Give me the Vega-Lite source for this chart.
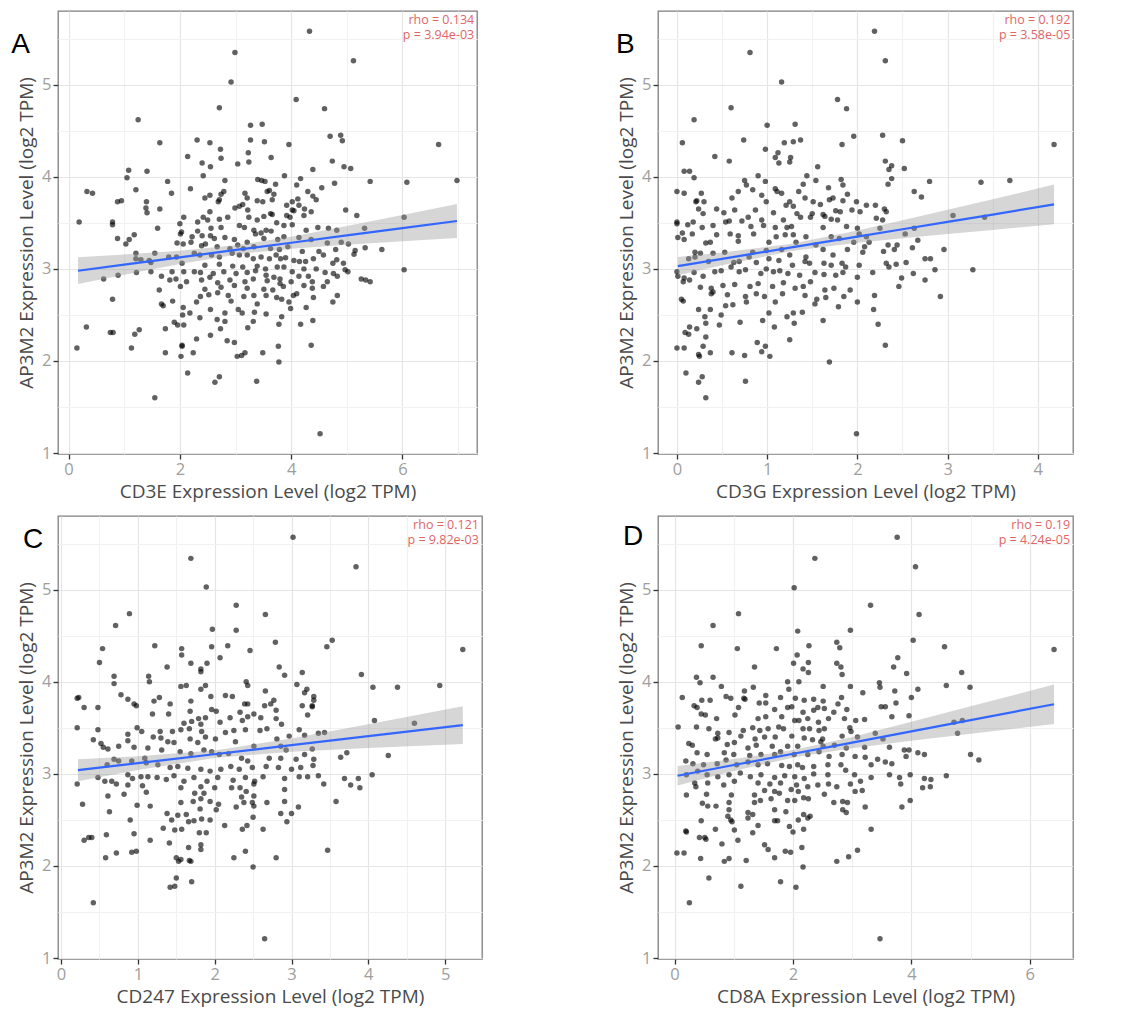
{
"$schema": "https://vega.github.io/schema/vega-lite/v6.json",
"padding": {"left": 10, "top": 10, "right": 0, "bottom": 0},
"background": "white",
"config": {
"view": {"stroke": "#7f7f7f", "strokeWidth": 1.3},
"axis": {"domain": false, "labelFont": "Open Sans", "titleFont": "Open Sans", "labelFontSize": 16.5, "titleFontSize": 19, "labelColor": "#9e9e9e", "titleColor": "#4a4a4a", "titleFontWeight": "normal", "tickColor": "#333333", "tickWidth": 1.3, "tickSize": 5, "gridWidth": 1.2, "labelPadding": 2, "titlePadding": 5}
},
"datasets": {
"A": [{"x":4.33,"y":5.58},{"x":2.99,"y":5.35},{"x":5.12,"y":5.26},{"x":2.92,"y":5.03},{"x":4.09,"y":4.84},{"x":2.71,"y":4.75},{"x":4.60,"y":4.74},{"x":1.25,"y":4.62},{"x":3.27,"y":4.56},{"x":3.48,"y":4.57},{"x":4.70,"y":4.44},{"x":4.89,"y":4.45},{"x":4.92,"y":4.39},{"x":2.31,"y":4.40},{"x":3.27,"y":4.40},{"x":3.52,"y":4.38},{"x":1.64,"y":4.37},{"x":2.54,"y":4.37},{"x":3.96,"y":4.35},{"x":6.65,"y":4.35},{"x":2.73,"y":4.30},{"x":3.23,"y":4.26},{"x":2.14,"y":4.22},{"x":2.74,"y":4.20},{"x":3.64,"y":4.21},{"x":2.40,"y":4.15},{"x":3.24,"y":4.16},{"x":4.74,"y":4.17},{"x":2.55,"y":4.11},{"x":3.04,"y":4.14},{"x":4.95,"y":4.11},{"x":5.07,"y":4.09},{"x":4.39,"y":4.08},{"x":1.08,"y":4.07},{"x":1.41,"y":4.06},{"x":1.05,"y":3.99},{"x":2.42,"y":4.01},{"x":3.88,"y":4.01},{"x":4.17,"y":3.98},{"x":6.98,"y":3.96},{"x":1.78,"y":3.95},{"x":2.81,"y":3.96},{"x":3.40,"y":3.97},{"x":3.47,"y":3.96},{"x":3.53,"y":3.95},{"x":5.42,"y":3.95},{"x":6.08,"y":3.94},{"x":4.10,"y":3.91},{"x":3.72,"y":3.92},{"x":4.78,"y":3.93},{"x":4.55,"y":3.88},{"x":1.21,"y":3.86},{"x":2.19,"y":3.87},{"x":0.33,"y":3.84},{"x":0.43,"y":3.82},{"x":1.85,"y":3.82},{"x":3.57,"y":3.84},{"x":3.61,"y":3.85},{"x":3.17,"y":3.82},{"x":4.30,"y":3.84},{"x":2.79,"y":3.84},{"x":2.74,"y":3.81},{"x":2.54,"y":3.80},{"x":2.45,"y":3.77},{"x":4.39,"y":3.79},{"x":4.45,"y":3.75},{"x":3.69,"y":3.81},{"x":1.40,"y":3.73},{"x":0.88,"y":3.73},{"x":0.95,"y":3.74},{"x":2.69,"y":3.73},{"x":2.71,"y":3.75},{"x":3.13,"y":3.70},{"x":3.49,"y":3.73},{"x":3.21,"y":3.77},{"x":3.39,"y":3.74},{"x":3.66,"y":3.75},{"x":4.02,"y":3.73},{"x":4.12,"y":3.76},{"x":3.92,"y":3.69},{"x":4.14,"y":3.69},{"x":4.24,"y":3.65},{"x":4.36,"y":3.62},{"x":4.05,"y":3.63},{"x":4.02,"y":3.64},{"x":4.98,"y":3.64},{"x":1.64,"y":3.65},{"x":1.39,"y":3.66},{"x":1.41,"y":3.61},{"x":2.54,"y":3.62},{"x":3.22,"y":3.64},{"x":3.07,"y":3.68},{"x":2.99,"y":3.66},{"x":3.63,"y":3.60},{"x":3.66,"y":3.59},{"x":3.51,"y":3.57},{"x":3.92,"y":3.58},{"x":3.98,"y":3.56},{"x":4.23,"y":3.58},{"x":6.03,"y":3.56},{"x":5.18,"y":3.58},{"x":2.07,"y":3.56},{"x":2.32,"y":3.51},{"x":2.42,"y":3.56},{"x":2.50,"y":3.53},{"x":2.86,"y":3.56},{"x":2.71,"y":3.54},{"x":3.24,"y":3.56},{"x":3.39,"y":3.53},{"x":3.74,"y":3.50},{"x":3.87,"y":3.47},{"x":4.02,"y":3.48},{"x":2.00,"y":3.49},{"x":1.60,"y":3.44},{"x":0.79,"y":3.51},{"x":0.19,"y":3.51},{"x":0.79,"y":3.48},{"x":2.56,"y":3.44},{"x":2.74,"y":3.45},{"x":3.07,"y":3.47},{"x":3.16,"y":3.45},{"x":3.33,"y":3.42},{"x":3.46,"y":3.39},{"x":3.55,"y":3.42},{"x":3.64,"y":3.41},{"x":4.48,"y":3.45},{"x":4.67,"y":3.44},{"x":4.82,"y":3.42},{"x":5.32,"y":3.44},{"x":4.27,"y":3.42},{"x":2.03,"y":3.40},{"x":2.32,"y":3.41},{"x":1.18,"y":3.37},{"x":0.88,"y":3.33},{"x":1.09,"y":3.32},{"x":1.03,"y":3.27},{"x":2.01,"y":3.38},{"x":2.22,"y":3.35},{"x":2.40,"y":3.36},{"x":2.55,"y":3.36},{"x":2.62,"y":3.33},{"x":2.81,"y":3.34},{"x":2.98,"y":3.32},{"x":3.21,"y":3.29},{"x":3.36,"y":3.38},{"x":3.51,"y":3.33},{"x":3.76,"y":3.32},{"x":3.87,"y":3.35},{"x":4.14,"y":3.34},{"x":4.36,"y":3.32},{"x":4.65,"y":3.28},{"x":4.90,"y":3.29},{"x":5.03,"y":3.27},{"x":5.33,"y":3.23},{"x":5.63,"y":3.21},{"x":1.95,"y":3.28},{"x":2.20,"y":3.29},{"x":2.06,"y":3.27},{"x":2.39,"y":3.25},{"x":2.46,"y":3.27},{"x":2.67,"y":3.24},{"x":2.90,"y":3.22},{"x":3.04,"y":3.26},{"x":3.14,"y":3.22},{"x":3.33,"y":3.24},{"x":3.63,"y":3.22},{"x":3.79,"y":3.21},{"x":3.94,"y":3.24},{"x":4.20,"y":3.19},{"x":4.50,"y":3.19},{"x":4.80,"y":3.21},{"x":5.15,"y":3.20},{"x":1.21,"y":3.17},{"x":1.55,"y":3.17},{"x":1.45,"y":3.09},{"x":1.21,"y":3.11},{"x":1.30,"y":3.10},{"x":1.80,"y":3.13},{"x":1.94,"y":3.13},{"x":2.26,"y":3.17},{"x":2.36,"y":3.15},{"x":2.57,"y":3.15},{"x":2.71,"y":3.13},{"x":2.94,"y":3.17},{"x":3.07,"y":3.15},{"x":3.21,"y":3.15},{"x":3.32,"y":3.11},{"x":3.46,"y":3.13},{"x":3.61,"y":3.11},{"x":3.73,"y":3.15},{"x":3.81,"y":3.11},{"x":3.90,"y":3.12},{"x":4.05,"y":3.09},{"x":4.15,"y":3.08},{"x":4.26,"y":3.08},{"x":4.40,"y":3.11},{"x":4.58,"y":3.15},{"x":4.75,"y":3.06},{"x":4.82,"y":3.10},{"x":4.94,"y":3.06},{"x":5.13,"y":3.16},{"x":2.04,"y":3.06},{"x":2.45,"y":3.04},{"x":2.71,"y":3.05},{"x":2.95,"y":3.03},{"x":3.13,"y":3.02},{"x":3.39,"y":3.03},{"x":3.54,"y":3.00},{"x":3.75,"y":3.02},{"x":3.87,"y":3.02},{"x":4.02,"y":2.97},{"x":4.23,"y":3.00},{"x":4.45,"y":3.00},{"x":4.97,"y":2.99},{"x":5.02,"y":2.97},{"x":6.03,"y":2.99},{"x":1.48,"y":2.97},{"x":1.22,"y":2.96},{"x":0.89,"y":2.93},{"x":0.63,"y":2.89},{"x":1.86,"y":2.97},{"x":2.07,"y":2.97},{"x":2.26,"y":2.97},{"x":2.37,"y":2.96},{"x":2.60,"y":2.95},{"x":2.79,"y":2.97},{"x":3.01,"y":2.95},{"x":3.21,"y":2.96},{"x":3.36,"y":2.98},{"x":3.55,"y":2.93},{"x":3.69,"y":2.91},{"x":3.80,"y":2.89},{"x":4.14,"y":2.92},{"x":4.31,"y":2.92},{"x":4.61,"y":2.96},{"x":4.76,"y":2.95},{"x":5.26,"y":2.89},{"x":5.42,"y":2.86},{"x":5.34,"y":2.88},{"x":1.67,"y":2.92},{"x":1.82,"y":2.88},{"x":1.93,"y":2.89},{"x":2.12,"y":2.86},{"x":2.39,"y":2.88},{"x":2.54,"y":2.91},{"x":2.68,"y":2.85},{"x":2.90,"y":2.88},{"x":3.17,"y":2.86},{"x":3.32,"y":2.89},{"x":3.57,"y":2.87},{"x":3.80,"y":2.84},{"x":4.00,"y":2.86},{"x":4.38,"y":2.86},{"x":4.65,"y":2.86},{"x":4.83,"y":2.92},{"x":2.01,"y":2.81},{"x":1.63,"y":2.77},{"x":2.45,"y":2.78},{"x":2.74,"y":2.80},{"x":2.98,"y":2.82},{"x":3.21,"y":2.79},{"x":3.51,"y":2.78},{"x":3.67,"y":2.77},{"x":3.86,"y":2.81},{"x":4.23,"y":2.82},{"x":4.38,"y":2.79},{"x":4.58,"y":2.81},{"x":2.68,"y":2.74},{"x":2.37,"y":2.70},{"x":2.52,"y":2.72},{"x":2.87,"y":2.71},{"x":3.15,"y":2.70},{"x":3.33,"y":2.71},{"x":3.55,"y":2.71},{"x":3.74,"y":2.69},{"x":3.83,"y":2.67},{"x":4.04,"y":2.71},{"x":4.10,"y":2.73},{"x":4.40,"y":2.69},{"x":4.83,"y":2.71},{"x":4.75,"y":2.64},{"x":0.79,"y":2.67},{"x":1.87,"y":2.65},{"x":2.30,"y":2.64},{"x":2.92,"y":2.65},{"x":3.05,"y":2.56},{"x":3.39,"y":2.62},{"x":3.96,"y":2.64},{"x":3.99,"y":2.57},{"x":4.27,"y":2.58},{"x":1.67,"y":2.62},{"x":1.70,"y":2.60},{"x":2.06,"y":2.58},{"x":2.18,"y":2.52},{"x":2.55,"y":2.56},{"x":2.81,"y":2.52},{"x":3.12,"y":2.52},{"x":3.34,"y":2.53},{"x":3.55,"y":2.51},{"x":2.05,"y":2.50},{"x":2.36,"y":2.47},{"x":2.67,"y":2.45},{"x":2.81,"y":2.43},{"x":3.32,"y":2.43},{"x":3.83,"y":2.48},{"x":4.39,"y":2.44},{"x":1.90,"y":2.42},{"x":1.96,"y":2.39},{"x":2.07,"y":2.39},{"x":3.78,"y":2.40},{"x":4.17,"y":2.40},{"x":1.74,"y":2.35},{"x":2.73,"y":2.35},{"x":3.22,"y":2.36},{"x":0.32,"y":2.37},{"x":0.75,"y":2.31},{"x":0.80,"y":2.31},{"x":1.27,"y":2.34},{"x":1.19,"y":2.29},{"x":2.30,"y":2.24},{"x":2.55,"y":2.28},{"x":2.85,"y":2.22},{"x":2.98,"y":2.20},{"x":2.04,"y":2.17},{"x":2.04,"y":2.16},{"x":3.77,"y":2.16},{"x":4.36,"y":2.17},{"x":0.15,"y":2.14},{"x":1.13,"y":2.14},{"x":1.74,"y":2.09},{"x":2.24,"y":2.09},{"x":2.02,"y":2.05},{"x":3.03,"y":2.05},{"x":3.11,"y":2.06},{"x":3.17,"y":2.09},{"x":3.49,"y":2.09},{"x":3.78,"y":1.99},{"x":2.14,"y":1.87},{"x":2.71,"y":1.83},{"x":2.63,"y":1.77},{"x":3.38,"y":1.78},{"x":1.55,"y":1.60},{"x":4.52,"y":1.21},{"x":1.48,"y":3.07}],
"Aband": [{"x":0.17,"fit":2.98,"lo":2.835,"hi":3.125},{"x":1,"fit":3.046,"lo":2.936,"hi":3.156},{"x":2,"fit":3.125,"lo":3.053,"hi":3.197},{"x":3.11,"fit":3.214,"lo":3.164,"hi":3.264},{"x":4,"fit":3.284,"lo":3.219,"hi":3.349},{"x":5,"fit":3.364,"lo":3.263,"hi":3.465},{"x":6,"fit":3.443,"lo":3.300,"hi":3.586},{"x":6.98,"fit":3.52,"lo":3.335,"hi":3.705}],
"B": [{"x":2.19,"y":5.58},{"x":0.81,"y":5.35},{"x":2.31,"y":5.26},{"x":1.16,"y":5.03},{"x":1.78,"y":4.84},{"x":1.88,"y":4.74},{"x":0.60,"y":4.75},{"x":0.19,"y":4.62},{"x":1.00,"y":4.56},{"x":1.31,"y":4.57},{"x":1.96,"y":4.44},{"x":2.28,"y":4.45},{"x":2.50,"y":4.39},{"x":0.74,"y":4.40},{"x":1.29,"y":4.38},{"x":1.37,"y":4.40},{"x":1.19,"y":4.37},{"x":0.06,"y":4.37},{"x":1.83,"y":4.35},{"x":4.18,"y":4.35},{"x":0.98,"y":4.30},{"x":1.12,"y":4.26},{"x":0.42,"y":4.22},{"x":1.09,"y":4.21},{"x":1.26,"y":4.21},{"x":0.58,"y":4.17},{"x":1.13,"y":4.15},{"x":1.25,"y":4.16},{"x":2.31,"y":4.17},{"x":1.56,"y":4.11},{"x":2.38,"y":4.12},{"x":2.35,"y":4.08},{"x":2.52,"y":4.09},{"x":0.08,"y":4.06},{"x":0.14,"y":4.06},{"x":0.19,"y":3.99},{"x":0.90,"y":4.01},{"x":1.44,"y":4.01},{"x":2.38,"y":3.98},{"x":3.69,"y":3.96},{"x":3.37,"y":3.94},{"x":2.80,"y":3.95},{"x":0.75,"y":3.96},{"x":0.98,"y":3.95},{"x":1.82,"y":3.97},{"x":1.54,"y":3.96},{"x":2.34,"y":3.92},{"x":1.40,"y":3.92},{"x":0.77,"y":3.91},{"x":1.68,"y":3.88},{"x":1.84,"y":3.91},{"x":0.84,"y":3.86},{"x":1.09,"y":3.87},{"x":0.68,"y":3.84},{"x":0.00,"y":3.84},{"x":0.08,"y":3.82},{"x":0.27,"y":3.82},{"x":1.11,"y":3.84},{"x":1.35,"y":3.84},{"x":2.63,"y":3.84},{"x":1.16,"y":3.82},{"x":1.89,"y":3.81},{"x":0.94,"y":3.80},{"x":1.73,"y":3.77},{"x":2.71,"y":3.78},{"x":0.61,"y":3.77},{"x":1.42,"y":3.77},{"x":1.69,"y":3.75},{"x":1.84,"y":3.74},{"x":0.21,"y":3.73},{"x":0.30,"y":3.73},{"x":0.22,"y":3.74},{"x":0.99,"y":3.73},{"x":1.25,"y":3.73},{"x":1.51,"y":3.73},{"x":1.59,"y":3.70},{"x":1.99,"y":3.73},{"x":2.10,"y":3.69},{"x":2.20,"y":3.69},{"x":1.21,"y":3.69},{"x":1.29,"y":3.68},{"x":0.44,"y":3.65},{"x":0.24,"y":3.65},{"x":0.64,"y":3.64},{"x":0.87,"y":3.64},{"x":1.76,"y":3.63},{"x":1.81,"y":3.62},{"x":1.94,"y":3.64},{"x":2.30,"y":3.65},{"x":2.32,"y":3.62},{"x":2.03,"y":3.62},{"x":1.07,"y":3.61},{"x":1.33,"y":3.60},{"x":1.50,"y":3.60},{"x":1.62,"y":3.59},{"x":0.29,"y":3.60},{"x":0.52,"y":3.61},{"x":3.06,"y":3.58},{"x":3.41,"y":3.56},{"x":0.58,"y":3.52},{"x":0.54,"y":3.51},{"x":0.00,"y":3.51},{"x":0.00,"y":3.49},{"x":0.18,"y":3.51},{"x":0.79,"y":3.56},{"x":0.94,"y":3.53},{"x":1.18,"y":3.53},{"x":1.37,"y":3.56},{"x":1.48,"y":3.56},{"x":1.64,"y":3.57},{"x":1.71,"y":3.54},{"x":1.78,"y":3.53},{"x":2.21,"y":3.55},{"x":2.28,"y":3.53},{"x":0.72,"y":3.52},{"x":0.12,"y":3.48},{"x":0.28,"y":3.45},{"x":0.40,"y":3.47},{"x":0.82,"y":3.46},{"x":0.96,"y":3.47},{"x":1.09,"y":3.45},{"x":1.22,"y":3.45},{"x":1.27,"y":3.46},{"x":1.62,"y":3.45},{"x":1.88,"y":3.46},{"x":2.00,"y":3.44},{"x":2.63,"y":3.44},{"x":2.25,"y":3.44},{"x":0.06,"y":3.39},{"x":0.01,"y":3.34},{"x":0.08,"y":3.32},{"x":0.17,"y":3.38},{"x":0.44,"y":3.37},{"x":0.59,"y":3.38},{"x":0.68,"y":3.36},{"x":0.85,"y":3.38},{"x":1.10,"y":3.35},{"x":1.20,"y":3.37},{"x":1.29,"y":3.37},{"x":1.43,"y":3.35},{"x":1.71,"y":3.35},{"x":1.80,"y":3.33},{"x":2.02,"y":3.38},{"x":2.10,"y":3.35},{"x":2.53,"y":3.38},{"x":2.67,"y":3.31},{"x":0.32,"y":3.28},{"x":0.37,"y":3.29},{"x":0.68,"y":3.30},{"x":1.02,"y":3.29},{"x":1.32,"y":3.29},{"x":1.54,"y":3.26},{"x":1.96,"y":3.29},{"x":2.13,"y":3.29},{"x":2.34,"y":3.26},{"x":2.44,"y":3.26},{"x":2.61,"y":3.23},{"x":2.08,"y":3.24},{"x":0.20,"y":3.18},{"x":0.26,"y":3.17},{"x":0.40,"y":3.17},{"x":0.53,"y":3.18},{"x":0.84,"y":3.18},{"x":0.99,"y":3.20},{"x":1.16,"y":3.21},{"x":1.25,"y":3.15},{"x":1.43,"y":3.13},{"x":1.62,"y":3.21},{"x":1.73,"y":3.15},{"x":1.89,"y":3.21},{"x":2.06,"y":3.18},{"x":2.29,"y":3.19},{"x":2.41,"y":3.21},{"x":2.96,"y":3.21},{"x":0.13,"y":3.11},{"x":0.20,"y":3.13},{"x":0.35,"y":3.08},{"x":0.63,"y":3.07},{"x":0.69,"y":3.08},{"x":0.80,"y":3.13},{"x":0.88,"y":3.07},{"x":1.02,"y":3.11},{"x":1.13,"y":3.09},{"x":1.28,"y":3.04},{"x":1.42,"y":3.08},{"x":1.47,"y":3.06},{"x":1.63,"y":3.06},{"x":1.71,"y":3.04},{"x":1.83,"y":3.06},{"x":1.87,"y":3.02},{"x":2.02,"y":3.04},{"x":2.32,"y":3.06},{"x":2.43,"y":3.05},{"x":2.54,"y":3.07},{"x":2.75,"y":3.11},{"x":2.81,"y":3.11},{"x":0.00,"y":2.97},{"x":0.01,"y":2.92},{"x":0.08,"y":2.90},{"x":0.14,"y":2.88},{"x":0.19,"y":2.96},{"x":0.29,"y":2.92},{"x":0.42,"y":2.97},{"x":0.49,"y":2.98},{"x":0.60,"y":3.02},{"x":0.69,"y":2.97},{"x":0.76,"y":2.99},{"x":0.93,"y":2.95},{"x":0.99,"y":3.00},{"x":1.07,"y":2.97},{"x":1.14,"y":2.98},{"x":1.23,"y":2.95},{"x":1.36,"y":2.93},{"x":1.53,"y":2.96},{"x":1.63,"y":2.94},{"x":1.76,"y":2.93},{"x":1.84,"y":2.96},{"x":2.00,"y":2.91},{"x":2.17,"y":2.96},{"x":2.35,"y":3.02},{"x":2.49,"y":2.90},{"x":2.62,"y":2.95},{"x":2.86,"y":2.99},{"x":3.28,"y":2.99},{"x":2.75,"y":2.88},{"x":0.07,"y":2.86},{"x":0.26,"y":2.80},{"x":0.38,"y":2.79},{"x":0.51,"y":2.82},{"x":0.64,"y":2.83},{"x":0.81,"y":2.81},{"x":0.90,"y":2.84},{"x":1.06,"y":2.81},{"x":1.18,"y":2.85},{"x":1.31,"y":2.79},{"x":1.40,"y":2.81},{"x":1.48,"y":2.86},{"x":1.64,"y":2.77},{"x":1.74,"y":2.79},{"x":1.92,"y":2.77},{"x":2.46,"y":2.81},{"x":0.38,"y":2.73},{"x":0.40,"y":2.75},{"x":0.56,"y":2.72},{"x":0.76,"y":2.70},{"x":0.88,"y":2.73},{"x":0.97,"y":2.70},{"x":1.17,"y":2.73},{"x":1.42,"y":2.71},{"x":1.55,"y":2.67},{"x":1.65,"y":2.69},{"x":1.85,"y":2.70},{"x":2.00,"y":2.64},{"x":2.19,"y":2.71},{"x":2.92,"y":2.70},{"x":0.05,"y":2.67},{"x":0.07,"y":2.65},{"x":0.24,"y":2.56},{"x":0.37,"y":2.56},{"x":0.54,"y":2.60},{"x":0.62,"y":2.61},{"x":0.77,"y":2.64},{"x":1.09,"y":2.64},{"x":1.39,"y":2.53},{"x":1.53,"y":2.62},{"x":1.62,"y":2.44},{"x":1.79,"y":2.59},{"x":2.18,"y":2.56},{"x":0.31,"y":2.48},{"x":0.49,"y":2.50},{"x":0.95,"y":2.44},{"x":1.02,"y":2.52},{"x":1.22,"y":2.48},{"x":1.29,"y":2.52},{"x":1.30,"y":2.41},{"x":0.32,"y":2.41},{"x":0.47,"y":2.39},{"x":0.70,"y":2.42},{"x":1.08,"y":2.37},{"x":2.23,"y":2.40},{"x":0.09,"y":2.31},{"x":0.14,"y":2.37},{"x":0.22,"y":2.35},{"x":0.32,"y":2.26},{"x":0.13,"y":2.29},{"x":1.25,"y":2.23},{"x":0.29,"y":2.16},{"x":0.89,"y":2.20},{"x":0.98,"y":2.16},{"x":0.94,"y":2.10},{"x":2.31,"y":2.17},{"x":0.00,"y":2.14},{"x":0.08,"y":2.14},{"x":0.61,"y":2.09},{"x":0.37,"y":2.09},{"x":0.24,"y":2.07},{"x":0.25,"y":2.05},{"x":0.75,"y":2.06},{"x":1.03,"y":2.05},{"x":1.69,"y":1.99},{"x":0.10,"y":1.87},{"x":0.28,"y":1.83},{"x":0.24,"y":1.77},{"x":0.76,"y":1.78},{"x":0.32,"y":1.60},{"x":1.99,"y":1.21}],
"Bband": [{"x":0.01,"fit":3.03,"lo":2.93,"hi":3.13},{"x":0.5,"fit":3.109,"lo":3.040,"hi":3.178},{"x":1.27,"fit":3.233,"lo":3.193,"hi":3.273},{"x":2,"fit":3.35,"lo":3.284,"hi":3.416},{"x":2.5,"fit":3.43,"lo":3.332,"hi":3.528},{"x":3,"fit":3.51,"lo":3.378,"hi":3.642},{"x":3.5,"fit":3.59,"lo":3.423,"hi":3.757},{"x":4.18,"fit":3.70,"lo":3.485,"hi":3.915}],
"C": [{"x":3.02,"y":5.57},{"x":1.69,"y":5.34},{"x":3.84,"y":5.25},{"x":1.89,"y":5.03},{"x":2.28,"y":4.83},{"x":2.66,"y":4.73},{"x":0.89,"y":4.74},{"x":0.71,"y":4.61},{"x":1.97,"y":4.57},{"x":2.28,"y":4.56},{"x":2.79,"y":4.43},{"x":3.53,"y":4.45},{"x":3.46,"y":4.38},{"x":1.22,"y":4.39},{"x":1.57,"y":4.36},{"x":1.96,"y":4.38},{"x":2.17,"y":4.39},{"x":0.54,"y":4.36},{"x":2.46,"y":4.34},{"x":5.23,"y":4.35},{"x":1.57,"y":4.29},{"x":2.07,"y":4.26},{"x":0.50,"y":4.21},{"x":1.90,"y":4.20},{"x":1.69,"y":4.20},{"x":1.38,"y":4.16},{"x":2.84,"y":4.16},{"x":1.82,"y":4.14},{"x":3.14,"y":4.10},{"x":1.82,"y":4.11},{"x":2.91,"y":4.07},{"x":3.91,"y":4.08},{"x":0.69,"y":4.06},{"x":1.14,"y":4.06},{"x":0.69,"y":3.98},{"x":1.15,"y":4.00},{"x":2.41,"y":4.00},{"x":3.07,"y":3.97},{"x":4.93,"y":3.96},{"x":4.06,"y":3.94},{"x":4.38,"y":3.94},{"x":1.56,"y":3.95},{"x":1.63,"y":3.96},{"x":1.88,"y":3.96},{"x":2.43,"y":3.96},{"x":1.82,"y":3.92},{"x":2.66,"y":3.90},{"x":3.20,"y":3.92},{"x":3.17,"y":3.88},{"x":0.21,"y":3.82},{"x":0.23,"y":3.83},{"x":0.78,"y":3.86},{"x":0.87,"y":3.81},{"x":1.28,"y":3.83},{"x":1.95,"y":3.84},{"x":2.14,"y":3.85},{"x":2.23,"y":3.84},{"x":3.29,"y":3.84},{"x":3.29,"y":3.80},{"x":2.77,"y":3.80},{"x":2.73,"y":3.76},{"x":1.21,"y":3.79},{"x":1.69,"y":3.79},{"x":0.95,"y":3.76},{"x":1.42,"y":3.76},{"x":2.39,"y":3.76},{"x":2.43,"y":3.76},{"x":3.14,"y":3.74},{"x":0.30,"y":3.72},{"x":0.48,"y":3.72},{"x":0.98,"y":3.74},{"x":3.27,"y":3.73},{"x":3.27,"y":3.74},{"x":2.65,"y":3.74},{"x":2.80,"y":3.69},{"x":1.96,"y":3.70},{"x":2.02,"y":3.68},{"x":1.68,"y":3.68},{"x":2.33,"y":3.67},{"x":2.51,"y":3.65},{"x":3.21,"y":3.64},{"x":1.19,"y":3.65},{"x":1.40,"y":3.65},{"x":1.79,"y":3.60},{"x":1.88,"y":3.61},{"x":2.20,"y":3.61},{"x":2.43,"y":3.62},{"x":2.60,"y":3.61},{"x":2.80,"y":3.60},{"x":2.87,"y":3.54},{"x":2.36,"y":3.58},{"x":1.70,"y":3.57},{"x":1.60,"y":3.55},{"x":1.82,"y":3.54},{"x":2.07,"y":3.56},{"x":4.60,"y":3.55},{"x":4.08,"y":3.58},{"x":0.21,"y":3.50},{"x":0.48,"y":3.48},{"x":0.87,"y":3.43},{"x":0.87,"y":3.36},{"x":0.42,"y":3.37},{"x":0.52,"y":3.33},{"x":0.99,"y":3.50},{"x":1.05,"y":3.46},{"x":1.29,"y":3.46},{"x":1.45,"y":3.46},{"x":1.56,"y":3.48},{"x":1.67,"y":3.49},{"x":1.83,"y":3.46},{"x":1.88,"y":3.40},{"x":2.01,"y":3.38},{"x":2.14,"y":3.45},{"x":2.25,"y":3.47},{"x":2.40,"y":3.48},{"x":2.59,"y":3.47},{"x":2.68,"y":3.49},{"x":2.81,"y":3.38},{"x":2.97,"y":3.41},{"x":3.10,"y":3.48},{"x":3.17,"y":3.42},{"x":3.35,"y":3.44},{"x":3.43,"y":3.45},{"x":1.20,"y":3.40},{"x":1.30,"y":3.39},{"x":1.39,"y":3.35},{"x":1.47,"y":3.34},{"x":1.68,"y":3.38},{"x":1.78,"y":3.34},{"x":2.27,"y":3.35},{"x":2.51,"y":3.30},{"x":2.86,"y":3.30},{"x":2.93,"y":3.26},{"x":3.27,"y":3.27},{"x":0.55,"y":3.29},{"x":0.61,"y":3.27},{"x":0.75,"y":3.30},{"x":0.95,"y":3.29},{"x":1.13,"y":3.28},{"x":1.31,"y":3.26},{"x":1.55,"y":3.24},{"x":1.69,"y":3.22},{"x":1.86,"y":3.26},{"x":1.96,"y":3.24},{"x":2.06,"y":3.21},{"x":2.18,"y":3.22},{"x":2.35,"y":3.17},{"x":2.43,"y":3.14},{"x":2.71,"y":3.17},{"x":2.86,"y":3.17},{"x":3.06,"y":3.16},{"x":3.17,"y":3.21},{"x":3.29,"y":3.16},{"x":3.64,"y":3.18},{"x":3.72,"y":3.23},{"x":4.26,"y":3.20},{"x":0.69,"y":3.16},{"x":0.60,"y":3.10},{"x":0.75,"y":3.14},{"x":0.92,"y":3.14},{"x":1.09,"y":3.17},{"x":1.11,"y":3.12},{"x":1.26,"y":3.10},{"x":1.42,"y":3.07},{"x":1.52,"y":3.08},{"x":1.65,"y":3.06},{"x":1.82,"y":3.05},{"x":1.94,"y":3.03},{"x":2.08,"y":3.05},{"x":2.21,"y":3.08},{"x":2.32,"y":3.05},{"x":2.49,"y":3.07},{"x":2.67,"y":3.08},{"x":2.83,"y":3.07},{"x":3.00,"y":3.05},{"x":3.12,"y":3.07},{"x":3.28,"y":3.09},{"x":4.05,"y":2.99},{"x":0.21,"y":2.89},{"x":0.48,"y":2.96},{"x":0.57,"y":2.92},{"x":0.66,"y":2.92},{"x":0.72,"y":2.89},{"x":0.87,"y":2.99},{"x":0.93,"y":2.95},{"x":1.04,"y":2.97},{"x":1.13,"y":2.97},{"x":1.25,"y":2.96},{"x":1.37,"y":2.94},{"x":1.47,"y":2.98},{"x":1.60,"y":2.92},{"x":1.73,"y":2.96},{"x":1.90,"y":2.92},{"x":2.04,"y":2.96},{"x":2.24,"y":2.93},{"x":2.40,"y":2.96},{"x":2.52,"y":2.92},{"x":2.63,"y":2.97},{"x":2.91,"y":2.95},{"x":3.10,"y":2.97},{"x":3.21,"y":2.97},{"x":3.35,"y":2.98},{"x":3.42,"y":2.89},{"x":3.69,"y":2.95},{"x":3.77,"y":2.88},{"x":3.87,"y":2.95},{"x":3.89,"y":2.85},{"x":0.87,"y":2.88},{"x":1.06,"y":2.87},{"x":1.11,"y":2.80},{"x":0.82,"y":2.78},{"x":0.61,"y":2.76},{"x":1.56,"y":2.85},{"x":1.82,"y":2.86},{"x":2.00,"y":2.85},{"x":2.22,"y":2.85},{"x":2.33,"y":2.85},{"x":2.51,"y":2.89},{"x":2.91,"y":2.83},{"x":1.74,"y":2.79},{"x":1.86,"y":2.79},{"x":2.41,"y":2.81},{"x":2.51,"y":2.76},{"x":0.28,"y":2.67},{"x":1.82,"y":2.73},{"x":1.94,"y":2.70},{"x":2.05,"y":2.67},{"x":2.35,"y":2.75},{"x":2.38,"y":2.69},{"x":2.49,"y":2.69},{"x":2.68,"y":2.69},{"x":2.91,"y":2.70},{"x":3.58,"y":2.70},{"x":1.56,"y":2.69},{"x":1.72,"y":2.70},{"x":0.99,"y":2.66},{"x":1.16,"y":2.65},{"x":2.28,"y":2.64},{"x":2.02,"y":2.61},{"x":3.09,"y":2.64},{"x":0.63,"y":2.59},{"x":1.81,"y":2.62},{"x":2.51,"y":2.65},{"x":1.38,"y":2.57},{"x":1.52,"y":2.55},{"x":1.63,"y":2.56},{"x":2.86,"y":2.57},{"x":3.00,"y":2.57},{"x":2.50,"y":2.53},{"x":1.44,"y":2.50},{"x":0.90,"y":2.50},{"x":1.66,"y":2.48},{"x":1.73,"y":2.49},{"x":1.83,"y":2.51},{"x":1.94,"y":2.50},{"x":2.13,"y":2.44},{"x":2.94,"y":2.48},{"x":1.33,"y":2.41},{"x":1.48,"y":2.39},{"x":1.57,"y":2.40},{"x":2.36,"y":2.40},{"x":2.42,"y":2.44},{"x":2.63,"y":2.40},{"x":0.95,"y":2.35},{"x":1.80,"y":2.36},{"x":1.89,"y":2.36},{"x":0.59,"y":2.34},{"x":0.30,"y":2.28},{"x":0.36,"y":2.31},{"x":0.40,"y":2.31},{"x":1.16,"y":2.28},{"x":1.41,"y":2.25},{"x":1.82,"y":2.23},{"x":1.82,"y":2.18},{"x":1.66,"y":2.20},{"x":2.40,"y":2.16},{"x":3.47,"y":2.17},{"x":0.92,"y":2.15},{"x":0.98,"y":2.16},{"x":0.72,"y":2.14},{"x":0.58,"y":2.09},{"x":1.50,"y":2.09},{"x":1.53,"y":2.05},{"x":1.56,"y":2.07},{"x":1.67,"y":2.06},{"x":1.69,"y":2.05},{"x":2.25,"y":2.09},{"x":2.80,"y":2.09},{"x":2.50,"y":1.99},{"x":1.50,"y":1.87},{"x":1.42,"y":1.77},{"x":1.48,"y":1.78},{"x":1.70,"y":1.83},{"x":0.42,"y":1.60},{"x":2.65,"y":1.21}],
"Cband": [{"x":0.22,"fit":3.04,"lo":2.92,"hi":3.16},{"x":1,"fit":3.116,"lo":3.041,"hi":3.191},{"x":2.02,"fit":3.216,"lo":3.176,"hi":3.256},{"x":3,"fit":3.312,"lo":3.239,"hi":3.385},{"x":4,"fit":3.410,"lo":3.280,"hi":3.540},{"x":5.23,"fit":3.53,"lo":3.325,"hi":3.735}],
"D": [{"x":3.76,"y":5.57},{"x":2.37,"y":5.34},{"x":4.07,"y":5.25},{"x":2.02,"y":5.02},{"x":3.31,"y":4.83},{"x":4.13,"y":4.73},{"x":1.08,"y":4.74},{"x":0.65,"y":4.61},{"x":2.08,"y":4.55},{"x":2.97,"y":4.56},{"x":2.74,"y":4.43},{"x":4.03,"y":4.45},{"x":4.56,"y":4.38},{"x":0.45,"y":4.39},{"x":1.06,"y":4.36},{"x":1.72,"y":4.36},{"x":2.27,"y":4.39},{"x":2.79,"y":4.37},{"x":6.41,"y":4.35},{"x":2.07,"y":4.29},{"x":3.77,"y":4.26},{"x":1.35,"y":4.16},{"x":2.01,"y":4.20},{"x":2.26,"y":4.21},{"x":2.74,"y":4.20},{"x":3.70,"y":4.16},{"x":2.17,"y":4.14},{"x":2.81,"y":4.16},{"x":2.26,"y":4.10},{"x":2.83,"y":4.08},{"x":4.85,"y":4.10},{"x":3.92,"y":4.09},{"x":0.37,"y":4.05},{"x":0.65,"y":4.05},{"x":0.43,"y":3.99},{"x":1.91,"y":4.00},{"x":2.10,"y":4.00},{"x":3.46,"y":3.99},{"x":3.47,"y":3.94},{"x":2.51,"y":3.95},{"x":2.97,"y":3.95},{"x":4.59,"y":3.96},{"x":4.99,"y":3.94},{"x":0.79,"y":3.95},{"x":1.18,"y":3.90},{"x":1.33,"y":3.94},{"x":1.93,"y":3.92},{"x":3.18,"y":3.88},{"x":3.72,"y":3.90},{"x":4.11,"y":3.92},{"x":0.13,"y":3.83},{"x":0.87,"y":3.84},{"x":0.95,"y":3.82},{"x":1.17,"y":3.82},{"x":1.19,"y":3.81},{"x":1.54,"y":3.85},{"x":1.79,"y":3.83},{"x":2.04,"y":3.82},{"x":2.35,"y":3.81},{"x":2.51,"y":3.79},{"x":2.82,"y":3.83},{"x":4.00,"y":3.83},{"x":0.46,"y":3.80},{"x":0.60,"y":3.80},{"x":3.74,"y":3.77},{"x":1.43,"y":3.77},{"x":1.54,"y":3.77},{"x":1.98,"y":3.73},{"x":2.19,"y":3.80},{"x":2.42,"y":3.72},{"x":2.76,"y":3.76},{"x":3.49,"y":3.73},{"x":3.56,"y":3.73},{"x":0.33,"y":3.74},{"x":0.38,"y":3.72},{"x":1.08,"y":3.72},{"x":1.69,"y":3.70},{"x":1.91,"y":3.72},{"x":2.17,"y":3.67},{"x":2.35,"y":3.69},{"x":2.53,"y":3.71},{"x":2.69,"y":3.67},{"x":2.91,"y":3.70},{"x":0.45,"y":3.65},{"x":0.52,"y":3.64},{"x":3.67,"y":3.62},{"x":3.96,"y":3.63},{"x":4.72,"y":3.56},{"x":4.86,"y":3.58},{"x":0.71,"y":3.60},{"x":1.02,"y":3.64},{"x":1.41,"y":3.60},{"x":1.54,"y":3.62},{"x":1.81,"y":3.62},{"x":2.03,"y":3.58},{"x":2.10,"y":3.58},{"x":2.25,"y":3.60},{"x":2.43,"y":3.56},{"x":2.60,"y":3.60},{"x":2.87,"y":3.60},{"x":3.06,"y":3.58},{"x":3.21,"y":3.59},{"x":0.06,"y":3.51},{"x":0.37,"y":3.51},{"x":0.58,"y":3.49},{"x":0.73,"y":3.44},{"x":0.92,"y":3.45},{"x":1.16,"y":3.47},{"x":1.32,"y":3.50},{"x":1.44,"y":3.47},{"x":1.58,"y":3.49},{"x":1.76,"y":3.51},{"x":1.84,"y":3.49},{"x":2.17,"y":3.49},{"x":2.28,"y":3.49},{"x":2.44,"y":3.47},{"x":2.53,"y":3.49},{"x":2.96,"y":3.50},{"x":2.98,"y":3.46},{"x":3.39,"y":3.44},{"x":4.78,"y":3.44},{"x":0.69,"y":3.38},{"x":0.73,"y":3.39},{"x":1.12,"y":3.41},{"x":1.36,"y":3.38},{"x":1.52,"y":3.40},{"x":1.70,"y":3.40},{"x":1.98,"y":3.41},{"x":2.19,"y":3.39},{"x":2.33,"y":3.37},{"x":2.50,"y":3.38},{"x":2.83,"y":3.41},{"x":3.09,"y":3.40},{"x":3.52,"y":3.38},{"x":0.24,"y":3.33},{"x":0.30,"y":3.31},{"x":0.89,"y":3.32},{"x":1.01,"y":3.34},{"x":1.24,"y":3.28},{"x":1.38,"y":3.31},{"x":1.65,"y":3.30},{"x":1.91,"y":3.30},{"x":2.08,"y":3.30},{"x":2.47,"y":3.35},{"x":2.51,"y":3.30},{"x":2.70,"y":3.31},{"x":2.90,"y":3.28},{"x":3.21,"y":3.29},{"x":3.63,"y":3.29},{"x":3.88,"y":3.26},{"x":3.96,"y":3.26},{"x":4.11,"y":3.23},{"x":4.22,"y":3.21},{"x":5.00,"y":3.21},{"x":5.14,"y":3.15},{"x":0.38,"y":3.23},{"x":0.55,"y":3.21},{"x":0.84,"y":3.23},{"x":1.00,"y":3.21},{"x":1.27,"y":3.20},{"x":1.46,"y":3.21},{"x":1.69,"y":3.21},{"x":1.79,"y":3.24},{"x":2.02,"y":3.21},{"x":2.25,"y":3.21},{"x":2.44,"y":3.24},{"x":2.61,"y":3.19},{"x":2.83,"y":3.21},{"x":3.05,"y":3.19},{"x":3.22,"y":3.18},{"x":3.43,"y":3.16},{"x":3.56,"y":3.13},{"x":3.91,"y":3.19},{"x":0.19,"y":3.14},{"x":0.31,"y":3.11},{"x":0.49,"y":3.10},{"x":0.72,"y":3.11},{"x":0.87,"y":3.15},{"x":1.05,"y":3.10},{"x":1.24,"y":3.13},{"x":1.41,"y":3.10},{"x":1.57,"y":3.11},{"x":1.81,"y":3.09},{"x":1.94,"y":3.08},{"x":2.08,"y":3.10},{"x":2.16,"y":3.07},{"x":2.35,"y":3.08},{"x":2.59,"y":3.10},{"x":2.81,"y":3.10},{"x":3.32,"y":3.10},{"x":3.67,"y":3.11},{"x":0.20,"y":2.99},{"x":0.39,"y":3.03},{"x":0.55,"y":2.99},{"x":0.73,"y":2.97},{"x":0.92,"y":2.99},{"x":1.11,"y":3.01},{"x":1.28,"y":2.97},{"x":1.46,"y":2.99},{"x":1.69,"y":2.96},{"x":1.86,"y":2.98},{"x":2.03,"y":2.97},{"x":2.19,"y":2.95},{"x":2.35,"y":3.00},{"x":2.59,"y":2.99},{"x":2.89,"y":3.04},{"x":3.04,"y":2.99},{"x":3.32,"y":2.96},{"x":3.63,"y":2.99},{"x":3.80,"y":2.96},{"x":3.98,"y":2.99},{"x":4.22,"y":2.95},{"x":4.33,"y":2.94},{"x":4.59,"y":2.98},{"x":0.34,"y":2.90},{"x":0.56,"y":2.90},{"x":0.83,"y":2.88},{"x":1.01,"y":2.92},{"x":1.41,"y":2.90},{"x":1.61,"y":2.89},{"x":1.79,"y":2.90},{"x":2.06,"y":2.88},{"x":2.25,"y":2.86},{"x":2.42,"y":2.88},{"x":2.60,"y":2.89},{"x":2.97,"y":2.89},{"x":3.14,"y":2.92},{"x":3.82,"y":2.89},{"x":4.19,"y":2.85},{"x":4.32,"y":2.86},{"x":0.36,"y":2.86},{"x":0.20,"y":2.77},{"x":0.54,"y":2.78},{"x":0.96,"y":2.77},{"x":1.35,"y":2.77},{"x":1.52,"y":2.82},{"x":1.69,"y":2.81},{"x":1.77,"y":2.79},{"x":1.97,"y":2.83},{"x":2.09,"y":2.81},{"x":2.53,"y":2.78},{"x":2.74,"y":2.86},{"x":3.05,"y":2.81},{"x":3.17,"y":2.82},{"x":0.47,"y":2.68},{"x":0.56,"y":2.65},{"x":0.70,"y":2.65},{"x":0.92,"y":2.69},{"x":1.35,"y":2.69},{"x":1.45,"y":2.71},{"x":1.63,"y":2.73},{"x":1.91,"y":2.71},{"x":2.03,"y":2.71},{"x":2.18,"y":2.74},{"x":2.26,"y":2.73},{"x":2.69,"y":2.69},{"x":2.84,"y":2.70},{"x":2.92,"y":2.69},{"x":3.22,"y":2.64},{"x":3.84,"y":2.64},{"x":3.98,"y":2.71},{"x":0.92,"y":2.61},{"x":1.24,"y":2.58},{"x":1.32,"y":2.56},{"x":1.69,"y":2.61},{"x":1.88,"y":2.59},{"x":2.18,"y":2.56},{"x":2.29,"y":2.54},{"x":2.84,"y":2.61},{"x":2.90,"y":2.58},{"x":0.45,"y":2.49},{"x":0.90,"y":2.54},{"x":0.95,"y":2.50},{"x":0.97,"y":2.48},{"x":1.24,"y":2.52},{"x":1.69,"y":2.49},{"x":1.74,"y":2.49},{"x":2.09,"y":2.50},{"x":2.25,"y":2.52},{"x":0.69,"y":2.40},{"x":1.01,"y":2.39},{"x":1.41,"y":2.44},{"x":1.94,"y":2.43},{"x":2.18,"y":2.40},{"x":3.32,"y":2.40},{"x":0.19,"y":2.38},{"x":0.20,"y":2.37},{"x":1.32,"y":2.36},{"x":2.00,"y":2.37},{"x":0.42,"y":2.31},{"x":0.51,"y":2.31},{"x":0.53,"y":2.29},{"x":0.80,"y":2.24},{"x":1.07,"y":2.28},{"x":1.52,"y":2.23},{"x":1.58,"y":2.18},{"x":2.15,"y":2.20},{"x":3.09,"y":2.17},{"x":0.04,"y":2.14},{"x":0.16,"y":2.14},{"x":1.87,"y":2.16},{"x":1.96,"y":2.15},{"x":1.69,"y":2.09},{"x":0.44,"y":2.08},{"x":0.92,"y":2.08},{"x":0.84,"y":2.05},{"x":1.21,"y":2.06},{"x":2.74,"y":2.05},{"x":2.94,"y":2.10},{"x":2.17,"y":1.99},{"x":0.58,"y":1.87},{"x":1.12,"y":1.78},{"x":1.79,"y":1.83},{"x":2.05,"y":1.77},{"x":0.25,"y":1.60},{"x":3.47,"y":1.21}],
"Dband": [{"x":0.05,"fit":2.98,"lo":2.875,"hi":3.085},{"x":1,"fit":3.096,"lo":3.031,"hi":3.161},{"x":2.05,"fit":3.224,"lo":3.184,"hi":3.264},{"x":3,"fit":3.34,"lo":3.279,"hi":3.401},{"x":4,"fit":3.462,"lo":3.359,"hi":3.565},{"x":5,"fit":3.584,"lo":3.435,"hi":3.733},{"x":6.41,"fit":3.756,"lo":3.541,"hi":3.971}]
},
"columns": 2,
"spacing": {"row": 62, "column": 176},
"bounds": "flush",
"align": "none",
"concat": [
{"width": 419, "height": 443, "layer": [
{"data": {"name": "A"}, "mark": {"type": "circle", "size": 30, "color": "black", "opacity": 0.62},
 "encoding": {
  "x": {"field": "x", "type": "quantitative", "scale": {"domain": [-0.19, 7.34], "nice": false, "zero": false}, "axis": {"title": "CD3E Expression Level (log2 TPM)", "values": [0,1,2,3,4,5,6,7], "labelExpr": "datum.value % 2 === 0 ? '' + datum.value : ''", "tickOpacity": {"condition": {"test": "datum.value % 2 === 0", "value": 1}, "value": 0}, "gridColor": {"condition": {"test": "datum.value % 2 === 0", "value": "#e5e5e5"}, "value": "#f1f1f1"}}},
  "y": {"field": "y", "type": "quantitative", "scale": {"domain": [0.99, 5.8], "nice": false, "zero": false}, "axis": {"title": "AP3M2 Expression Level (log2 TPM)", "values": [1,1.5,2,2.5,3,3.5,4,4.5,5,5.5], "labelExpr": "datum.value % 1 === 0 ? '' + datum.value : ''", "tickOpacity": {"condition": {"test": "datum.value % 1 === 0", "value": 1}, "value": 0}, "gridColor": {"condition": {"test": "datum.value % 1 === 0", "value": "#e5e5e5"}, "value": "#f1f1f1"}}}}},
{"data": {"name": "Aband"}, "mark": {"type": "area", "color": "#999999", "opacity": 0.4}, "encoding": {"x": {"field": "x", "type": "quantitative"}, "y": {"field": "lo", "type": "quantitative"}, "y2": {"field": "hi"}}},
{"data": {"name": "Aband"}, "mark": {"type": "line", "color": "#3366FF", "strokeWidth": 2.2}, "encoding": {"x": {"field": "x", "type": "quantitative"}, "y": {"field": "fit", "type": "quantitative"}}},
{"data": {"values": [{"t": "rho = 0.134\np = 3.94e-03"}]}, "mark": {"type": "text", "align": "right", "baseline": "top", "lineBreak": "\n", "fontSize": 12.5, "lineHeight": 15.5, "font": "Open Sans", "color": "#e06666"}, "encoding": {"x": {"datum": 7.29, "type": "quantitative"}, "y": {"datum": 5.77, "type": "quantitative"}, "text": {"field": "t"}}},
{"data": {"values": [{"t": "A"}]}, "mark": {"type": "text", "align": "left", "baseline": "alphabetic", "fontSize": 28, "font": "Liberation Sans", "color": "black"}, "encoding": {"x": {"datum": -1.03, "type": "quantitative"}, "y": {"datum": 5.345, "type": "quantitative"}, "text": {"field": "t"}}}
]},
{"width": 415, "height": 443, "layer": [
{"data": {"name": "B"}, "mark": {"type": "circle", "size": 30, "color": "black", "opacity": 0.62},
 "encoding": {
  "x": {"field": "x", "type": "quantitative", "scale": {"domain": [-0.21, 4.39], "nice": false, "zero": false}, "axis": {"title": "CD3G Expression Level (log2 TPM)", "values": [0,0.5,1,1.5,2,2.5,3,3.5,4], "labelExpr": "datum.value % 1 === 0 ? '' + datum.value : ''", "tickOpacity": {"condition": {"test": "datum.value % 1 === 0", "value": 1}, "value": 0}, "gridColor": {"condition": {"test": "datum.value % 1 === 0", "value": "#e5e5e5"}, "value": "#f1f1f1"}}},
  "y": {"field": "y", "type": "quantitative", "scale": {"domain": [0.99, 5.8], "nice": false, "zero": false}, "axis": {"title": "AP3M2 Expression Level (log2 TPM)", "values": [1,1.5,2,2.5,3,3.5,4,4.5,5,5.5], "labelExpr": "datum.value % 1 === 0 ? '' + datum.value : ''", "tickOpacity": {"condition": {"test": "datum.value % 1 === 0", "value": 1}, "value": 0}, "gridColor": {"condition": {"test": "datum.value % 1 === 0", "value": "#e5e5e5"}, "value": "#f1f1f1"}}}}},
{"data": {"name": "Bband"}, "mark": {"type": "area", "color": "#999999", "opacity": 0.4}, "encoding": {"x": {"field": "x", "type": "quantitative"}, "y": {"field": "lo", "type": "quantitative"}, "y2": {"field": "hi"}}},
{"data": {"name": "Bband"}, "mark": {"type": "line", "color": "#3366FF", "strokeWidth": 2.2}, "encoding": {"x": {"field": "x", "type": "quantitative"}, "y": {"field": "fit", "type": "quantitative"}}},
{"data": {"values": [{"t": "rho = 0.192\np = 3.58e-05"}]}, "mark": {"type": "text", "align": "right", "baseline": "top", "lineBreak": "\n", "fontSize": 12.5, "lineHeight": 15.5, "font": "Open Sans", "color": "#e06666"}, "encoding": {"x": {"datum": 4.36, "type": "quantitative"}, "y": {"datum": 5.77, "type": "quantitative"}, "text": {"field": "t"}}},
{"data": {"values": [{"t": "B"}]}, "mark": {"type": "text", "align": "left", "baseline": "alphabetic", "fontSize": 28, "font": "Liberation Sans", "color": "black"}, "encoding": {"x": {"datum": -0.676, "type": "quantitative"}, "y": {"datum": 5.345, "type": "quantitative"}, "text": {"field": "t"}}}
]},
{"width": 424, "height": 443, "layer": [
{"data": {"name": "C"}, "mark": {"type": "circle", "size": 30, "color": "black", "opacity": 0.62},
 "encoding": {
  "x": {"field": "x", "type": "quantitative", "scale": {"domain": [-0.04, 5.48], "nice": false, "zero": false}, "axis": {"title": "CD247 Expression Level (log2 TPM)", "values": [0,0.5,1,1.5,2,2.5,3,3.5,4,4.5,5], "labelExpr": "datum.value % 1 === 0 ? '' + datum.value : ''", "tickOpacity": {"condition": {"test": "datum.value % 1 === 0", "value": 1}, "value": 0}, "gridColor": {"condition": {"test": "datum.value % 1 === 0", "value": "#e5e5e5"}, "value": "#f1f1f1"}}},
  "y": {"field": "y", "type": "quantitative", "scale": {"domain": [0.99, 5.8], "nice": false, "zero": false}, "axis": {"title": "AP3M2 Expression Level (log2 TPM)", "values": [1,1.5,2,2.5,3,3.5,4,4.5,5,5.5], "labelExpr": "datum.value % 1 === 0 ? '' + datum.value : ''", "tickOpacity": {"condition": {"test": "datum.value % 1 === 0", "value": 1}, "value": 0}, "gridColor": {"condition": {"test": "datum.value % 1 === 0", "value": "#e5e5e5"}, "value": "#f1f1f1"}}}}},
{"data": {"name": "Cband"}, "mark": {"type": "area", "color": "#999999", "opacity": 0.4}, "encoding": {"x": {"field": "x", "type": "quantitative"}, "y": {"field": "lo", "type": "quantitative"}, "y2": {"field": "hi"}}},
{"data": {"name": "Cband"}, "mark": {"type": "line", "color": "#3366FF", "strokeWidth": 2.2}, "encoding": {"x": {"field": "x", "type": "quantitative"}, "y": {"field": "fit", "type": "quantitative"}}},
{"data": {"values": [{"t": "rho = 0.121\np = 9.82e-03"}]}, "mark": {"type": "text", "align": "right", "baseline": "top", "lineBreak": "\n", "fontSize": 12.5, "lineHeight": 15.5, "font": "Open Sans", "color": "#e06666"}, "encoding": {"x": {"datum": 5.44, "type": "quantitative"}, "y": {"datum": 5.77, "type": "quantitative"}, "text": {"field": "t"}}},
{"data": {"values": [{"t": "C"}]}, "mark": {"type": "text", "align": "left", "baseline": "alphabetic", "fontSize": 28, "font": "Liberation Sans", "color": "black"}, "encoding": {"x": {"datum": -0.496, "type": "quantitative"}, "y": {"datum": 5.456, "type": "quantitative"}, "text": {"field": "t"}}}
]},
{"width": 415, "height": 443, "layer": [
{"data": {"name": "D"}, "mark": {"type": "circle", "size": 30, "color": "black", "opacity": 0.62},
 "encoding": {
  "x": {"field": "x", "type": "quantitative", "scale": {"domain": [-0.28, 6.73], "nice": false, "zero": false}, "axis": {"title": "CD8A Expression Level (log2 TPM)", "values": [0,1,2,3,4,5,6], "labelExpr": "datum.value % 2 === 0 ? '' + datum.value : ''", "tickOpacity": {"condition": {"test": "datum.value % 2 === 0", "value": 1}, "value": 0}, "gridColor": {"condition": {"test": "datum.value % 2 === 0", "value": "#e5e5e5"}, "value": "#f1f1f1"}}},
  "y": {"field": "y", "type": "quantitative", "scale": {"domain": [0.99, 5.8], "nice": false, "zero": false}, "axis": {"title": "AP3M2 Expression Level (log2 TPM)", "values": [1,1.5,2,2.5,3,3.5,4,4.5,5,5.5], "labelExpr": "datum.value % 1 === 0 ? '' + datum.value : ''", "tickOpacity": {"condition": {"test": "datum.value % 1 === 0", "value": 1}, "value": 0}, "gridColor": {"condition": {"test": "datum.value % 1 === 0", "value": "#e5e5e5"}, "value": "#f1f1f1"}}}}},
{"data": {"name": "Dband"}, "mark": {"type": "area", "color": "#999999", "opacity": 0.4}, "encoding": {"x": {"field": "x", "type": "quantitative"}, "y": {"field": "lo", "type": "quantitative"}, "y2": {"field": "hi"}}},
{"data": {"name": "Dband"}, "mark": {"type": "line", "color": "#3366FF", "strokeWidth": 2.2}, "encoding": {"x": {"field": "x", "type": "quantitative"}, "y": {"field": "fit", "type": "quantitative"}}},
{"data": {"values": [{"t": "rho = 0.19\np = 4.24e-05"}]}, "mark": {"type": "text", "align": "right", "baseline": "top", "lineBreak": "\n", "fontSize": 12.5, "lineHeight": 15.5, "font": "Open Sans", "color": "#e06666"}, "encoding": {"x": {"datum": 6.68, "type": "quantitative"}, "y": {"datum": 5.77, "type": "quantitative"}, "text": {"field": "t"}}},
{"data": {"values": [{"t": "D"}]}, "mark": {"type": "text", "align": "left", "baseline": "alphabetic", "fontSize": 28, "font": "Liberation Sans", "color": "black"}, "encoding": {"x": {"datum": -0.871, "type": "quantitative"}, "y": {"datum": 5.485, "type": "quantitative"}, "text": {"field": "t"}}}
]}
]
}
